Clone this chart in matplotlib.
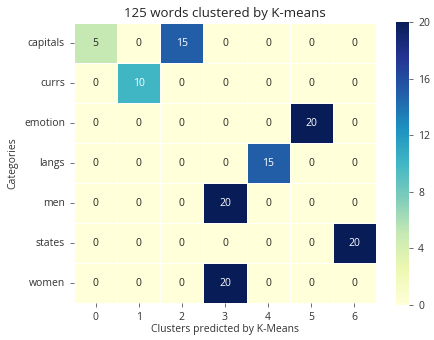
import numpy as np
import matplotlib
matplotlib.use("Agg")
import matplotlib.pyplot as plt
import seaborn as sns

categories = ["capitals", "currs", "emotion", "langs", "men", "states", "women"]
clusters = ["0", "1", "2", "3", "4", "5", "6"]
counts = [
    [5, 0, 15, 0, 0, 0, 0],
    [0, 10, 0, 0, 0, 0, 0],
    [0, 0, 0, 0, 0, 20, 0],
    [0, 0, 0, 0, 15, 0, 0],
    [0, 0, 0, 20, 0, 0, 0],
    [0, 0, 0, 0, 0, 0, 20],
    [0, 0, 0, 20, 0, 0, 0],
]
cbar_ticks = [0, 4, 8, 12, 16, 20]

plt.rcParams['font.family'] = ['Open Sans', 'DejaVu Sans']
fig = plt.figure(figsize=(4.35, 3.4), dpi=100)
ax = fig.add_axes([74/435, 1 - 303/340, 302/435, 280/340])
cax = fig.add_axes([396/435, 1 - 305/340, 13/435, 283/340])

sns.heatmap(np.array(counts), ax=ax, cbar_ax=cax, cmap="YlGnBu", vmin=0, vmax=20,
            annot=True, fmt="d", linewidths=0.5, linecolor="white",
            xticklabels=clusters, yticklabels=categories,
            annot_kws={"fontsize": 7.5}, cbar_kws={"ticks": cbar_ticks})
ax.set_title("125 words clustered by K-means", fontsize=9.5, pad=4, color="#222222")
ax.set_xlabel("Clusters predicted by K-Means", fontsize=7.5, labelpad=1, color="#333333")
ax.set_ylabel("Categories", fontsize=7.5, color="#333333")
ax.tick_params(axis="both", labelsize=7.5, length=3, width=0.6, color="#555555",
               labelcolor="#333333")
ax.tick_params(axis="y", rotation=0)
cax.tick_params(labelsize=7.5, length=3, width=0.6, color="#555555", labelcolor="#333333")
for s in cax.spines.values():
    s.set_visible(False)
fig.savefig("out.png", dpi=100)
